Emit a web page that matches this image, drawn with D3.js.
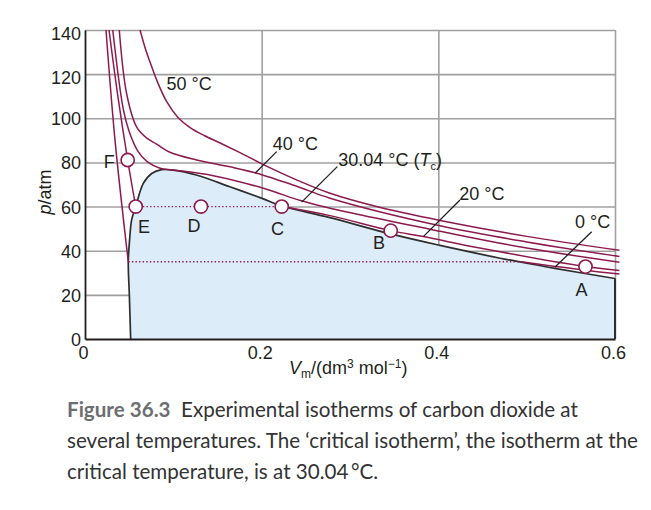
<!DOCTYPE html>
<html>
<head>
<meta charset="utf-8">
<script src="https://cdn.jsdelivr.net/npm/d3@7/dist/d3.min.js"></script>
<style>
  html, body { margin: 0; padding: 0; background: #ffffff; }
  svg { display: block; }
  .lbl { font-family: "Liberation Sans", Arial, sans-serif; font-size: 18px; fill: #231f20; }
  .cap { font-family: Lato, "Noto Sans", sans-serif; font-size: 20.6px; fill: #333333; }
</style>
</head>
<body>
<svg id="chart" width="651" height="510"></svg>
<script>
// ---------------- data (V in dm3/mol, p in atm) ----------------
const vTicks = [0, 0.2, 0.4, 0.6];
const vTickLabels = ["0", "0.2", "0.4", "0.6"];
const pTicks = [0, 20, 40, 60, 80, 100, 120, 140];

// coexistence (two-phase) boundary
const coexistence = [[0.0517,0],[0.0502,20],[0.049,35],[0.0505,45],[0.0528,54],[0.0574,60],[0.066,70.5],
  [0.0755,75],[0.0868,76.7],[0.1,76.5],[0.126,74.3],[0.164,69],[0.2019,63.5],[0.2227,60.3],[0.2774,55],
  [0.346,47.6],[0.402,42.4],[0.47,36.6],[0.5,34.4],[0.532,32.0],[0.6,27.4]];

const iso50 = [[0.0623,140],[0.068,132],[0.0736,125.5],[0.082,116.5],[0.0925,107.5],[0.105,100.5],
  [0.119,95.8],[0.135,92.2],[0.153,88.8],[0.176,84.3],[0.202,79],[0.24,72],[0.2774,66],[0.33,60],
  [0.402,53.7],[0.5,46.5],[0.605,40.2]];
const iso40 = [[0.0388,140],[0.0472,111],[0.0585,96],[0.07,91],[0.0811,88.3],[0.0962,84.6],[0.1264,81.1],
  [0.1642,78],[0.1944,75.1],[0.2397,69.2],[0.2774,63.8],[0.402,51.3],[0.5,44],[0.605,37.4]];
const iso30 = [[0.0314,140],[0.0434,104],[0.05,94],[0.06,85],[0.07,80.5],[0.085,77.4],[0.1,76.6],
  [0.1453,74],[0.2019,68.3],[0.245,62.6],[0.2774,59.2],[0.402,48.8],[0.5,41.2],[0.605,34.8]];
const iso20Liquid = [[0.0272,140],[0.0372,110],[0.0483,81.1],[0.0574,60]];
const iso20Plateau = [[0.0574,60],[0.2227,60]];
const iso20Vapour = [[0.2227,60],[0.2774,55.9],[0.3461,49.1],[0.383,46.4],[0.45,41.0],[0.5666,32.8],[0.605,31.0]];
const iso0Liquid = [[0.0238,140],[0.034,90],[0.049,35]];
const iso0Plateau = [[0.049,35],[0.494,35]];
const iso0Vapour = [[0.494,35],[0.532,32.9],[0.5666,31.1],[0.605,29.4]];

// states A–F along the 20 °C isotherm
const stateNames = ["A","B","C","D","E","F"];
const stateV = [0.5666, 0.3461, 0.2227, 0.1313, 0.0574, 0.0483];
const stateP = [32.8, 49.1, 60, 60, 60, 81.1];

const isoNames = ["50 °C", "40 °C", "30.04 °C", "20 °C", "0 °C"];

// ---------------- layout ----------------
const svg = d3.select("#chart");
const x = d3.scaleLinear().domain([0, 0.6]).range([85, 615]);
const y = d3.scaleLinear().domain([0, 140]).range([339, 30]);
const magenta = "#8c1a4f";
const ink = "#231f20";
const tickFont = { family: '"Liberation Sans", Arial, sans-serif', size: "18px" };

svg.append("defs").append("clipPath").attr("id", "plotclip")
  .append("rect").attr("x", 85).attr("y", 29).attr("width", 536).attr("height", 312);

// gridlines
const gy = svg.append("g").attr("transform", "translate(85,0)")
  .call(d3.axisLeft(y).tickValues(pTicks.filter(d => d > 0)).tickSize(-530).tickFormat(""));
gy.select(".domain").remove();
gy.selectAll("line").attr("stroke", "#a0a0a0").attr("stroke-width", 1.6);
const gx = svg.append("g").attr("transform", "translate(0,339)")
  .call(d3.axisBottom(x).tickValues(vTicks.filter(d => d > 0)).tickSize(-309).tickFormat(""));
gx.select(".domain").remove();
gx.selectAll("line").attr("stroke", "#a0a0a0").attr("stroke-width", 1.6);

const curve = d3.line().x(d => x(d[0])).y(d => y(d[1])).curve(d3.curveCatmullRom.alpha(0.5));
const straight = d3.line().x(d => x(d[0])).y(d => y(d[1]));

// two-phase region
svg.append("path")
  .attr("d", curve(coexistence) + "L" + x(0.6) + "," + y(0) + "L" + x(coexistence[0][0]) + "," + y(0) + "Z")
  .attr("fill", "#dcedf9").attr("stroke", "none");
svg.append("path").attr("d", curve(coexistence))
  .attr("fill", "none").attr("stroke", "#2e2e2e").attr("stroke-width", 1.7);
svg.append("path").attr("d", straight([[0.6, coexistence[coexistence.length-1][1]], [0.6, 0]]))
  .attr("fill", "none").attr("stroke", "#2e2e2e").attr("stroke-width", 2);

// isotherms
const plot = svg.append("g").attr("clip-path", "url(#plotclip)");
[iso50, iso40, iso30, iso20Liquid, iso20Vapour, iso0Liquid, iso0Vapour].forEach(s => {
  plot.append("path").attr("d", curve(s)).attr("fill", "none")
    .attr("stroke", magenta).attr("stroke-width", 1.5);
});
[iso20Plateau, iso0Plateau].forEach(s => {
  plot.append("path").attr("d", straight(s)).attr("fill", "none")
    .attr("stroke", magenta).attr("stroke-width", 1.3).attr("stroke-dasharray", "1.4,2.2");
});

// axes lines and tick labels
const ay = svg.append("g").attr("transform", "translate(85,0)")
  .call(d3.axisLeft(y).tickValues(pTicks).tickSize(0).tickPadding(4));
ay.attr("font-family", tickFont.family).attr("font-size", tickFont.size);
ay.select(".domain").attr("stroke", ink).attr("stroke-width", 1.8);
ay.selectAll(".tick text").attr("fill", ink).attr("dy", d => d >= 120 ? "0.5em" : "0.36em");
const ax = svg.append("g").attr("transform", "translate(0,339)")
  .call(d3.axisBottom(x).tickValues(vTicks).tickSize(0).tickPadding(7)
        .tickFormat((d, i) => vTickLabels[i]));
ax.attr("font-family", tickFont.family).attr("font-size", tickFont.size);
ax.select(".domain").attr("stroke", ink).attr("stroke-width", 2);
ax.selectAll(".tick text").attr("fill", ink).attr("dx", "-2");

// axis titles
svg.append("text").attr("class", "lbl").attr("font-size", "18.5px")
  .attr("transform", "translate(51,192) rotate(-90)").attr("text-anchor", "middle")
  .html('<tspan font-style="italic">p</tspan>/atm');
const xt = svg.append("text").attr("class", "lbl").attr("font-size", "18.5px").attr("x", 289).attr("y", 374);
xt.append("tspan").attr("font-style", "italic").text("V");
xt.append("tspan").attr("font-size", "12px").attr("dy", 4).text("m");
xt.append("tspan").attr("dy", -4).text("/(dm");
xt.append("tspan").attr("font-size", "12px").attr("dy", -6).text("3");
xt.append("tspan").attr("dy", 6).text(" mol");
xt.append("tspan").attr("font-size", "12px").attr("dy", -6).text("\u22121");
xt.append("tspan").attr("dy", 6).text(")");

// leader lines for isotherm labels
const leaders = [
  [[0.217, 84.9], [0.1925, 75.1]],
  [[0.2856, 78.1], [0.2453, 62.0]],
  [[0.4245, 63.0], [0.383, 46.4]],
  [[0.5736, 48.6], [0.5321, 32.6]]
];
leaders.forEach(l => svg.append("path").attr("d", straight(l))
  .attr("stroke", ink).attr("stroke-width", 1.3).attr("fill", "none"));

// isotherm labels
const isoLabelPos = [[0.0922, 112.8], [0.2125, 85.6], [0.2868, 78.2], [0.4237, 63.0], [0.5547, 50.3]];
isoNames.forEach((n, i) => {
  const t = svg.append("text").attr("class", "lbl")
    .attr("x", x(isoLabelPos[i][0])).attr("y", y(isoLabelPos[i][1]));
  t.append("tspan").text(n);
  if (i === 2) {
    t.append("tspan").text(" (");
    t.append("tspan").attr("font-style", "italic").text("T");
    t.append("tspan").attr("font-size", "11px").attr("dy", 4).text("c");
    t.append("tspan").attr("dy", -4).text(")");
  }
});

// state circles and letters
stateNames.forEach((n, i) => {
  svg.append("circle").attr("cx", x(stateV[i])).attr("cy", y(stateP[i])).attr("r", 6.6)
    .attr("fill", "#ffffff").attr("stroke", magenta).attr("stroke-width", 1.6);
});
const stateLabelPos = [[0.5622, 19.3], [0.3328, 40.6], [0.2179, 47.1], [0.1234, 48.7], [0.0668, 48.0], [0.0274, 77.5]];
stateNames.forEach((n, i) => {
  svg.append("text").attr("class", "lbl").attr("text-anchor", "middle")
    .attr("x", x(stateLabelPos[i][0])).attr("y", y(stateLabelPos[i][1])).text(n);
});

// caption
const capLines = [
  [["Figure 36.3", true], ["  Experimental isotherms of carbon dioxide at", false]],
  [["several temperatures. The \u2018critical isotherm\u2019, the isotherm at the", false]],
  [["critical temperature, is at 30.04\u2009\u00b0C.", false]]
];
capLines.forEach((line, i) => {
  const t = svg.append("text").attr("class", "cap").attr("x", 67).attr("y", 417 + i * 30.8)
    .attr("xml:space", "preserve");
  line.forEach(([s, bold]) => {
    const sp = t.append("tspan").text(s);
    if (bold) sp.attr("font-weight", "bold").attr("fill", "#6d6e71");
  });
});
</script>
</body>
</html>
